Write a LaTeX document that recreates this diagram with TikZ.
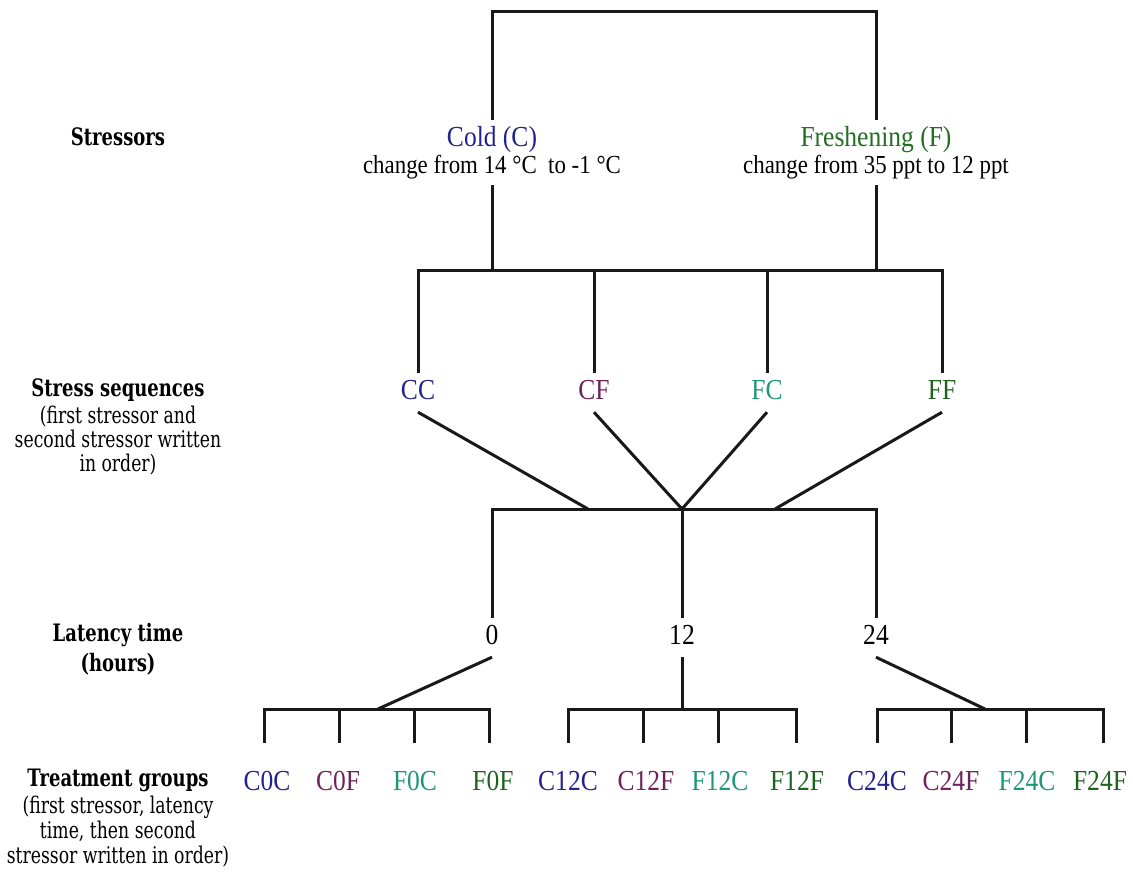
\documentclass[tikz,border=0pt]{standalone}
\usepackage{fontspec}
\setmainfont[FakeStretch=0.88]{Liberation Serif}
\newfontfamily\labfont[FakeStretch=0.75]{DejaVu Serif}
\definecolor{cblue}{RGB}{35,35,140}
\definecolor{cpurple}{RGB}{110,35,90}
\definecolor{cteal}{RGB}{30,150,120}
\definecolor{cgreen}{RGB}{30,100,30}
\definecolor{fgreen}{RGB}{35,110,35}
\begin{document}
\begin{tikzpicture}[x=1pt,y=-1pt]
\useasboundingbox[fill=white] (0,0) rectangle (1133,873);
\tikzset{
 ln/.style={line width=3pt, draw=black!90},
 big/.style={font=\fontsize{29}{34}\selectfont, text height=20pt, text depth=7pt, inner sep=6pt, anchor=base},
 sub/.style={font=\fontsize{26}{30}\selectfont, text height=18pt, text depth=6pt, inner sep=6pt, anchor=base},
 grp/.style={font=\fontsize{29}{34}\selectfont, text height=20pt, text depth=7pt, inner sep=0pt, anchor=base},
 side/.style={font=\labfont\bfseries\fontsize{24}{25}\selectfont, align=center, inner sep=0pt},
 sided/.style={font=\labfont\fontsize{23}{25}\selectfont, align=center, inner sep=0pt, anchor=north},
 tick/.style={ln, shorten <=27pt, shorten >=27pt},
 tickm/.style={ln, shorten >=27pt},
}
% left labels
\node[side] (lstress) at (118,137) {Stressors};
\node[side] (lseq) at (118,390) {Stress sequences};
\node[sided, font=\labfont\fontsize{23}{24}\selectfont] (lseqd) at (118,406) {(first stressor and\\second stressor written\\in order)};
\node[side, font=\labfont\bfseries\fontsize{24}{30}\selectfont] (llat) at (118,649) {Latency time\\(hours)};
\node[side] (ltr) at (118,780) {Treatment groups};
\node[sided] (ltrd) at (118,796) {(first stressor, latency\\time, then second\\stressor written in order)};

% stressors
\node[big, text=cblue] (cold) at (492,146) {Cold (C)};
\node[sub] (coldsub) at (492,173) {change from 14 °C~ to -1 °C};
\node[big, text=fgreen] (fresh) at (876,146) {Freshening (F)};
\node[sub] (freshsub) at (876,173) {change from 35 ppt to 12 ppt};
\coordinate (t1) at (492,11);
\coordinate (t2) at (876,11);
\draw[ln] (cold.north) -- (t1) -- (t2) -- (fresh.north);

% stress sequences
\node[big, text=cblue] (cc) at (418,399) {CC};
\node[big, text=cpurple] (cf) at (594,399) {CF};
\node[big, text=cteal] (fc) at (767,399) {FC};
\node[big, text=cgreen] (ff) at (942,399) {FF};
\coordinate (b1) at (418,270);
\coordinate (b2) at (594,270);
\coordinate (b3) at (767,270);
\coordinate (b4) at (942,270);
\coordinate (bc) at (492,270);
\coordinate (bf) at (876,270);
\draw[ln] (coldsub.south) -- (bc);
\draw[ln] (freshsub.south) -- (bf);
\draw[ln] (cc.north) -- (b1) -- (b4) -- (ff.north);
\draw[ln] (b2) -- (cf.north);
\draw[ln] (b3) -- (fc.north);

% converge
\coordinate (d1) at (588,509);
\coordinate (d2) at (682,509);
\coordinate (d4) at (775,509);
\draw[ln] (cc.south) -- (d1);
\draw[ln] (cf.south) -- (d2);
\draw[ln] (fc.south) -- (d2);
\draw[ln] (ff.south) -- (d4);

% latency
\node[big] (h0) at (492,644) {0};
\node[big] (h12) at (682,644) {12};
\node[big] (h24) at (876,644) {24};
\coordinate (l1) at (492,509);
\coordinate (l3) at (876,509);
\draw[ln] (h0.north) -- (l1) -- (l3) -- (h24.north);
\draw[ln] (d2) -- (h12.north);

% treatment groups
\node[grp, text=cblue] (c0c) at (267,790) {C0C};
\node[grp, text=cpurple] (c0f) at (338,790) {C0F};
\node[grp, text=cteal] (f0c) at (415,790) {F0C};
\node[grp, text=cgreen] (f0f) at (493,790) {F0F};
\node[grp, text=cblue] (c12c) at (568,790) {C12C};
\node[grp, text=cpurple] (c12f) at (646,790) {C12F};
\node[grp, text=cteal] (f12c) at (720,790) {F12C};
\node[grp, text=cgreen] (f12f) at (797,790) {F12F};
\node[grp, text=cblue] (c24c) at (877,790) {C24C};
\node[grp, text=cpurple] (c24f) at (951,790) {C24F};
\node[grp, text=cteal] (f24c) at (1027,790) {F24C};
\node[grp, text=cgreen] (f24f) at (1100,790) {F24F};

\coordinate (g1) at (378,709);
\coordinate (g2) at (682,709);
\coordinate (g3) at (985,709);
\draw[ln] (h0.south) -- (g1);
\draw[ln] (h12.south) -- (g2);
\draw[ln] (h24.south) -- (g3);

\coordinate (v1) at (264,709);
\coordinate (v2) at (339,709);
\coordinate (v3) at (414,709);
\coordinate (v4) at (489,709);
\coordinate (v5) at (568,709);
\coordinate (v6) at (643,709);
\coordinate (v7) at (718,709);
\coordinate (v8) at (796,709);
\coordinate (v9) at (877,709);
\coordinate (v10) at (951,709);
\coordinate (v11) at (1026,709);
\coordinate (v12) at (1103,709);
\draw[tick] (v1 |- c0c.north) -- (v1) -- (v4) -- (v4 |- f0f.north);
\draw[tickm] (v2) -- (v2 |- c0f.north);
\draw[tickm] (v3) -- (v3 |- f0c.north);
\draw[tick] (v5 |- c12c.north) -- (v5) -- (v8) -- (v8 |- f12f.north);
\draw[tickm] (v6) -- (v6 |- c12f.north);
\draw[tickm] (v7) -- (v7 |- f12c.north);
\draw[tick] (v9 |- c24c.north) -- (v9) -- (v12) -- (v12 |- f24f.north);
\draw[tickm] (v10) -- (v10 |- c24f.north);
\draw[tickm] (v11) -- (v11 |- f24c.north);
\end{tikzpicture}
\end{document}
